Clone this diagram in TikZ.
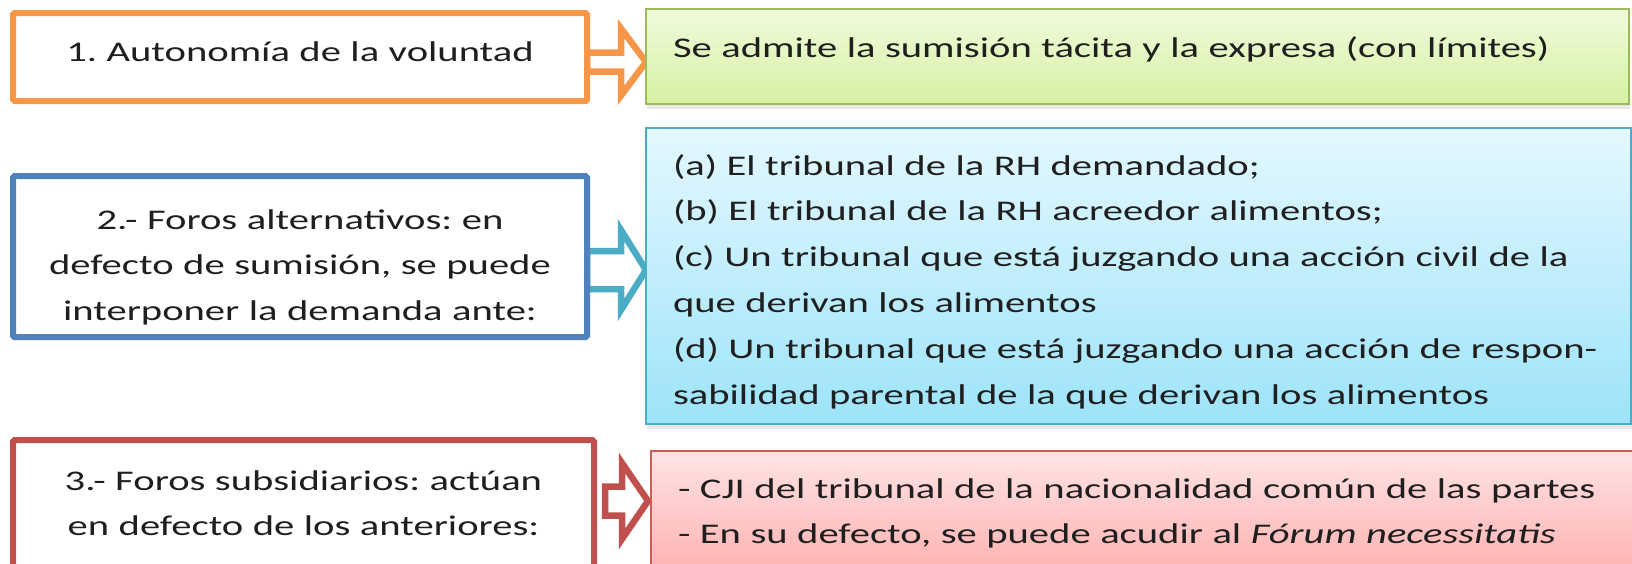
\documentclass[tikz,border=0pt]{standalone}
\usepackage{fontspec}
\setmainfont{Carlito}[FakeStretch=1.425]
\usepackage{xcolor}
\usepackage{tikz}
\usetikzlibrary{shadows,backgrounds}

\definecolor{orangeC}{HTML}{F79646}
\definecolor{blueC}{HTML}{4F81BD}
\definecolor{redC}{HTML}{C0504D}
\definecolor{tealC}{HTML}{4BACC6}
\definecolor{greenB}{HTML}{9BBB59}
\definecolor{greenT}{HTML}{F0FBDD}
\definecolor{greenD}{HTML}{D5F1A2}
\definecolor{blueT}{HTML}{E4F8FE}
\definecolor{blueD}{HTML}{9DE3FA}
\definecolor{pinkB}{HTML}{CD5B58}
\definecolor{pinkT}{HTML}{FFE4E4}
\definecolor{pinkD}{HTML}{FFA6A6}
\definecolor{textC}{HTML}{1F1F1F}

\begin{document}
\begin{tikzpicture}[x=1pt, y=-1pt,
    every node/.style={font=\fontsize{28.5pt}{45.8pt}\selectfont\frenchspacing, text=textC, outer sep=0pt},
    lbox/.style={draw, line width=6pt, fill=white, rounded corners=1.5pt, anchor=north west,
        inner xsep=8pt, inner ysep=8pt, align=center},
    rbox/.style={draw, line width=1.8pt, anchor=north west, inner xsep=27pt, inner ysep=14pt, align=left,
        drop shadow={shadow xshift=1pt, shadow yshift=-5pt, opacity=.18}},
    hollow/.style={line width=6.5pt, fill=white, line join=miter}]
    \useasboundingbox (0,0) rectangle (1632,563);
    \clip (0,0) rectangle (1632,563);

    \node[lbox, draw=orangeC, text width=558pt, text height=40pt, text depth=32pt] (l1) at (13,13)
        {1. Autonomía de la voluntad};
    \node[lbox, draw=blueC, text width=558pt, text height=45pt, text depth=100pt] (l2) at (13,176)
        {2.- Foros alternativos: en\\defecto de sumisión, se puede\\interponer la demanda ante:};
    \node[lbox, draw=redC, text width=565pt, text height=42pt, text depth=72pt] (l3) at (13,440)
        {3.- Foros subsidiarios: actúan\\en defecto de los anteriores:};

    \node[rbox, draw=greenB, top color=greenT, bottom color=greenD,
        text width=929pt, text height=34pt, text depth=33pt] (r1) at (646,9)
        {Se admite la sumisión tácita y la expresa (con límites)};
    \node[rbox, draw=tealC, top color=blueT, bottom color=blueD,
        text width=931pt, text height=33pt, text depth=235pt] (r2) at (646,128)
        {(a) El tribunal de la RH demandado;\\
         (b) El tribunal de la RH acreedor alimentos;\\
         (c) Un tribunal que está juzgando una acción civil de la\\
         que derivan los alimentos\\
         (d) Un tribunal que está juzgando una acción de respon-\\
         sabilidad parental de la que derivan los alimentos};
    \node[rbox, draw=pinkB, top color=pinkT, bottom color=pinkD,
        text width=945pt, text height=33pt, text depth=88pt] (r3) at (651,451)
        {- CJI del tribunal de la nacionalidad común de las partes\\
         - En su defecto, se puede acudir al \textit{Fórum necessitatis}};

    \begin{scope}[on background layer]
        \draw[hollow, draw=orangeC] (l1.east |- 0,52.5) -- ++(34,0) -- ++(0,-24) -- ++(25,33.5)
            -- ++(-25,33.5) -- ++(0,-24) -- ++(-34,0) -- cycle;
        \draw[hollow, draw=tealC] (l2.east |- 0,251) -- ++(34,0) -- ++(0,-21) -- ++(25,40)
            -- ++(-25,40) -- ++(0,-21) -- ++(-34,0) -- cycle;
        \draw[hollow, draw=redC] ([xshift=11pt]l3.east |- 0,486.5) -- ++(17,0) -- ++(0,-23.5) -- ++(26,38)
            -- ++(-26,38) -- ++(0,-23.5) -- ++(-17,0) -- cycle;
    \end{scope}
\end{tikzpicture}
\end{document}
